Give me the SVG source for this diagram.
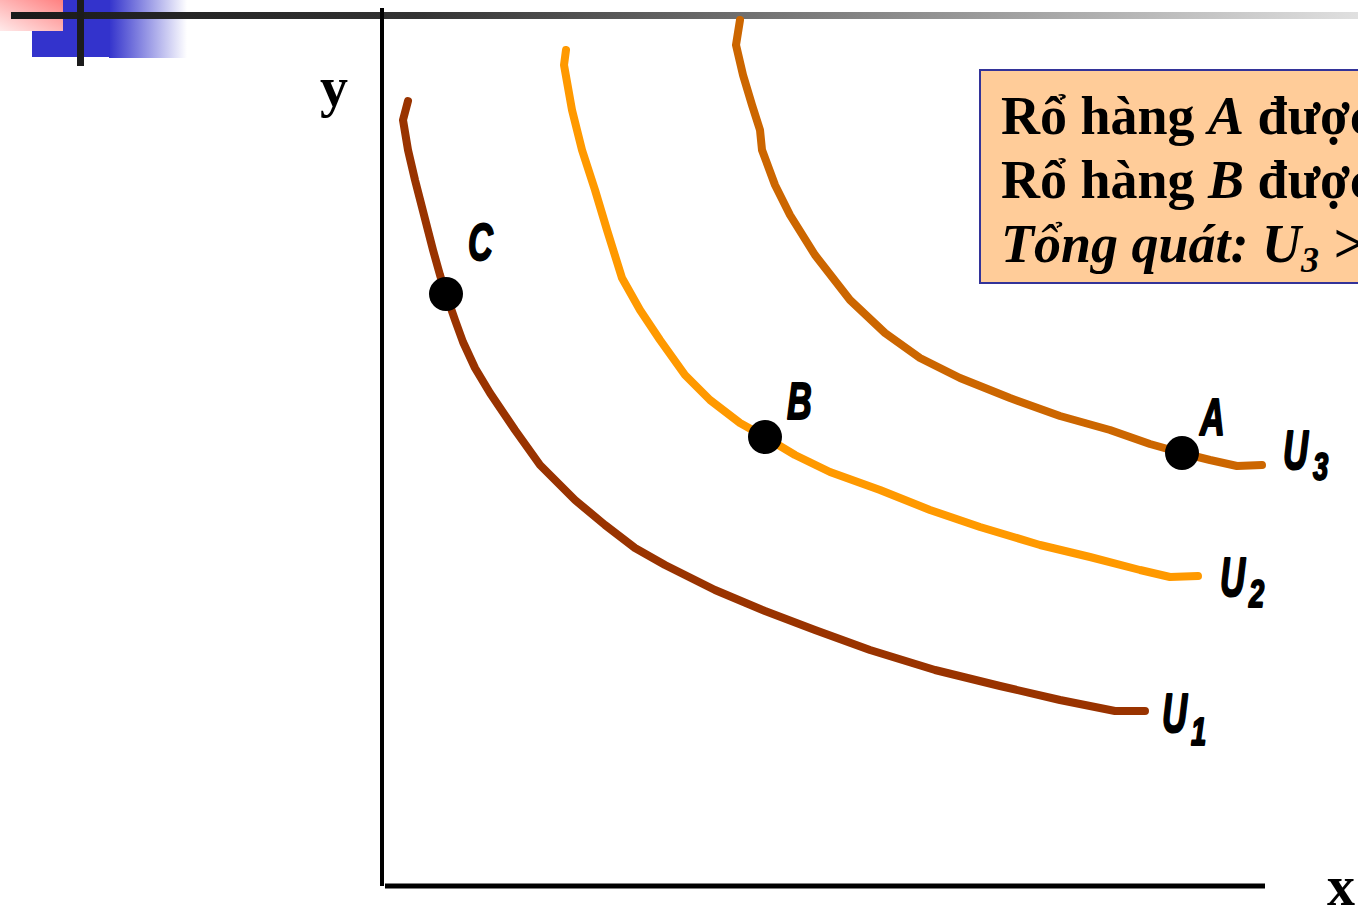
<svg xmlns="http://www.w3.org/2000/svg" width="1358" height="912" viewBox="0 0 1358 912">
<defs>
<linearGradient id="pink" x1="1" y1="0" x2="0" y2="1"><stop offset="0" stop-color="#ff8080"/><stop offset="1" stop-color="#ffeaea"/></linearGradient>
<linearGradient id="bluefade" x1="0" y1="0" x2="1" y2="0"><stop offset="0" stop-color="#3333cc"/><stop offset="1" stop-color="#3333cc" stop-opacity="0"/></linearGradient>
<linearGradient id="topline" x1="0" y1="0" x2="1" y2="0"><stop offset="0" stop-color="#1a1a1a"/><stop offset="0.3" stop-color="#333"/><stop offset="1" stop-color="#e0e0e0"/></linearGradient>
<style>
.curve{fill:none;stroke-width:8;stroke-linecap:round;stroke-linejoin:round}
.lbl{font-family:"Liberation Sans",Arial,sans-serif;font-weight:bold;font-style:italic;fill:#000;stroke:#000;stroke-width:2;stroke-linejoin:round}
.box{font-family:"Liberation Serif","Times New Roman",serif;font-weight:bold;font-size:54px;fill:#000}
.axlbl{font-family:"Liberation Serif","Times New Roman",serif;font-weight:bold;font-size:56px;fill:#000}
</style>
</defs>
<rect width="1358" height="912" fill="#fff"/>
<g id="decor">
<rect x="32" y="0" width="78" height="57" fill="#3333cc"/>
<rect x="109" y="0" width="78" height="58" fill="url(#bluefade)"/>
<rect x="0" y="0" width="63" height="31" fill="url(#pink)"/>
<rect x="11" y="12" width="1347" height="7" fill="url(#topline)"/>
<rect x="77" y="0" width="7" height="66" fill="#1c1c1c"/>
</g>
<g id="axes">
<line x1="382" y1="8" x2="382" y2="886" stroke="#000" stroke-width="4"/>
<line x1="385" y1="886" x2="1265" y2="886" stroke="#000" stroke-width="5"/>
<text class="axlbl" x="320" y="106">y</text>
<text class="axlbl" x="1327" y="905">x</text>
</g>
<g id="connectors">
<path id="U1curve" class="curve" stroke="#993300" d="M408,101 L403,120 L408,150 L415,180 L424,215 L433,250 L440,275 L446,294 L455,320 L463,342 L475,368 L490,393 L515,430 L540,465 L575,500 L605,525 L635,548 L665,565 L715,590 L765,611 L815,630 L870,650 L935,670 L1000,686 L1060,700 L1115,711 L1145,711"/>
<path id="U2curve" class="curve" stroke="#ff9900" d="M566,50 L564,65 L572,110 L582,150 L595,190 L607,230 L622,278 L640,310 L660,340 L685,375 L710,400 L740,423 L765,437 L795,455 L830,472 L880,490 L930,510 L980,527 L1040,545 L1090,557 L1140,570 L1170,577 L1198,576"/>
<path id="U3curve" class="curve" stroke="#cc6600" d="M740,20 L736,45 L743,75 L752,105 L760,130 L762,150 L775,185 L790,215 L815,255 L850,300 L885,333 L920,358 L960,378 L1010,398 L1060,416 L1110,430 L1150,444 L1182,453 L1210,460 L1237,466 L1262,465"/>
</g>
<g id="pointC"><circle cx="446" cy="294" r="17" fill="#000"/><text class="lbl" font-size="52" transform="translate(468,260) scale(0.66,1)">C</text></g>
<g id="pointB"><circle cx="765" cy="437" r="17" fill="#000"/><text class="lbl" font-size="52" transform="translate(787,419) scale(0.66,1)">B</text></g>
<g id="pointA"><circle cx="1182" cy="453" r="17" fill="#000"/><text class="lbl" font-size="52" transform="translate(1200,435) scale(0.66,1)">A</text></g>
<g id="labelU3"><text class="lbl" font-size="56" transform="translate(1283,469) scale(0.62,1)">U</text><text class="lbl" font-size="38" transform="translate(1313,480) scale(0.72,1)">3</text></g>
<g id="labelU2"><text class="lbl" font-size="56" transform="translate(1220,596) scale(0.62,1)">U</text><text class="lbl" font-size="38" transform="translate(1249,607) scale(0.72,1)">2</text></g>
<g id="labelU1"><text class="lbl" font-size="56" transform="translate(1162,732) scale(0.62,1)">U</text><text class="lbl" font-size="38" transform="translate(1191,745) scale(0.72,1)">1</text></g>
<g id="infobox">
<rect x="980" y="70" width="400" height="213" fill="#ffcc99" stroke="#333399" stroke-width="2"/>
<text class="box" x="1001" y="134">Rổ hàng <tspan font-style="italic">A</tspan> được</text>
<text class="box" x="1001" y="198">Rổ hàng <tspan font-style="italic">B</tspan> được</text>
<text class="box" x="1001" y="262" font-style="italic">Tổng quát: U<tspan font-size="36" dy="10">3</tspan><tspan dy="-10"> &gt;</tspan></text>
</g>
</svg>
